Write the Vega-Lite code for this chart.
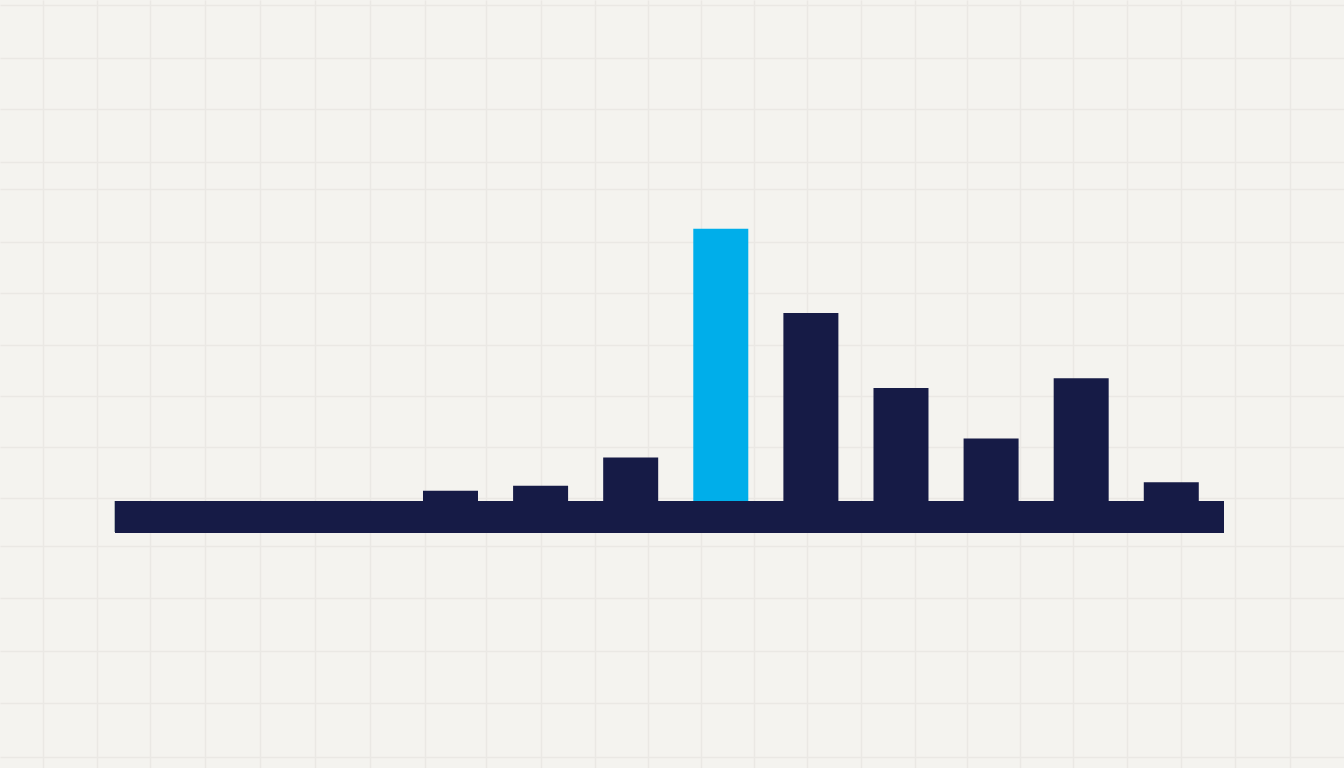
{
  "$schema": "https://vega.github.io/schema/vega-lite/v6.json",
  "width": 1344,
  "height": 768,
  "autosize": {"type": "fit", "contains": "padding"},
  "padding": 0,
  "background": "#f4f3ef",
  "config": {
    "view": {"stroke": null},
    "axis": {
      "labels": false,
      "ticks": false,
      "domain": false,
      "title": null,
      "grid": true,
      "gridColor": "#eae8e4",
      "gridWidth": 1.5,
      "minExtent": 0,
      "maxExtent": 0
    }
  },
  "data": {
    "values": [
      {"slot": 5, "value": 3.8, "group": "other"},
      {"slot": 6, "value": 5.6, "group": "other"},
      {"slot": 7, "value": 16.0, "group": "other"},
      {"slot": 8, "value": 100, "group": "peak"},
      {"slot": 9, "value": 69.1, "group": "other"},
      {"slot": 10, "value": 41.5, "group": "other"},
      {"slot": 11, "value": 23.0, "group": "other"},
      {"slot": 12, "value": 45.1, "group": "other"},
      {"slot": 13, "value": 6.9, "group": "other"}
    ]
  },
  "layer": [
    {
      "mark": {"type": "rect", "color": "#161b46"},
      "encoding": {
        "x": {
          "datum": 1.276,
          "type": "quantitative",
          "scale": {"domain": [0, 14.917], "nice": false, "zero": false, "padding": 0},
          "axis": {
            "values": [0.474, 1.073, 1.668, 2.275, 2.886, 3.496, 4.107, 4.717, 5.391, 6.001, 6.6, 7.189, 7.78, 8.372, 8.96, 9.553, 10.155, 10.733, 11.321, 11.909, 12.508, 13.108, 13.707, 14.317]
          }
        },
        "x2": {"datum": 13.585},
        "y": {
          "datum": 0,
          "type": "quantitative",
          "scale": {"domain": [-98, 184], "nice": false, "zero": false, "padding": 0},
          "axis": {
            "values": [182.16, 162.7, 143.97, 124.51, 114.6, 95.14, 76.41, 57.32, 38.59, 19.86, 1.14, -16.49, -35.58, -55.04, -74.13, -93.96]
          }
        },
        "y2": {"datum": -11.5}
      }
    },
    {
      "mark": {"type": "bar", "width": 55},
      "encoding": {
        "x": {"field": "slot", "type": "quantitative"},
        "y": {"field": "value", "type": "quantitative"},
        "color": {
          "field": "group",
          "type": "nominal",
          "scale": {"domain": ["other", "peak"], "range": ["#161b46", "#00aeea"]},
          "legend": null
        }
      }
    }
  ]
}
